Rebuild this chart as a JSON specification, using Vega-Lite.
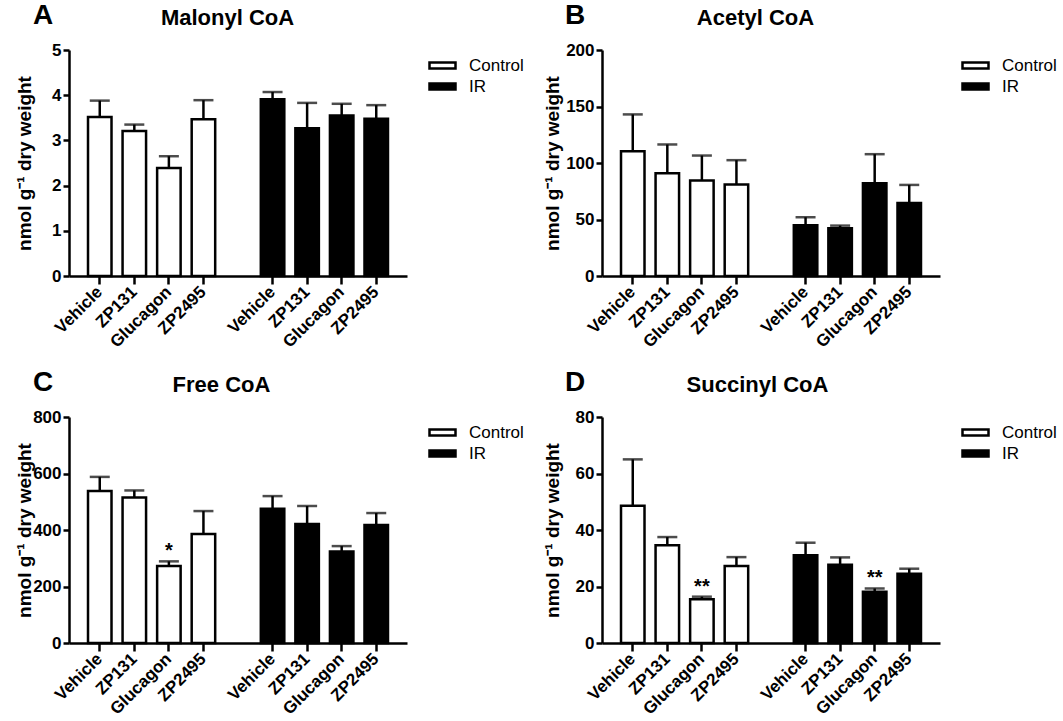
{
  "$schema": "https://vega.github.io/schema/vega-lite/v6.json",
  "background": "white",
  "padding": {"left": 14, "top": 2, "right": 0, "bottom": 0},
  "autosize": {"type": "pad"},
  "datasets": {
    "coa": [
      {"panel": "A", "group": "Control", "bar": "Control|Vehicle", "mean": 3.52, "err": 3.88, "sig": ""},
      {"panel": "A", "group": "Control", "bar": "Control|ZP131", "mean": 3.21, "err": 3.35, "sig": ""},
      {"panel": "A", "group": "Control", "bar": "Control|Glucagon", "mean": 2.39, "err": 2.65, "sig": ""},
      {"panel": "A", "group": "Control", "bar": "Control|ZP2495", "mean": 3.47, "err": 3.89, "sig": ""},
      {"panel": "A", "group": "IR", "bar": "IR|Vehicle", "mean": 3.91, "err": 4.07, "sig": ""},
      {"panel": "A", "group": "IR", "bar": "IR|ZP131", "mean": 3.27, "err": 3.83, "sig": ""},
      {"panel": "A", "group": "IR", "bar": "IR|Glucagon", "mean": 3.55, "err": 3.81, "sig": ""},
      {"panel": "A", "group": "IR", "bar": "IR|ZP2495", "mean": 3.48, "err": 3.78, "sig": ""},
      {"panel": "B", "group": "Control", "bar": "Control|Vehicle", "mean": 110.5, "err": 143, "sig": ""},
      {"panel": "B", "group": "Control", "bar": "Control|ZP131", "mean": 91, "err": 116.4, "sig": ""},
      {"panel": "B", "group": "Control", "bar": "Control|Glucagon", "mean": 84.5, "err": 106.6, "sig": ""},
      {"panel": "B", "group": "Control", "bar": "Control|ZP2495", "mean": 81, "err": 102.5, "sig": ""},
      {"panel": "B", "group": "IR", "bar": "IR|Vehicle", "mean": 44.9, "err": 52, "sig": ""},
      {"panel": "B", "group": "IR", "bar": "IR|ZP131", "mean": 42.2, "err": 44.6, "sig": ""},
      {"panel": "B", "group": "IR", "bar": "IR|Glucagon", "mean": 82.1, "err": 107.8, "sig": ""},
      {"panel": "B", "group": "IR", "bar": "IR|ZP2495", "mean": 64.7, "err": 80.6, "sig": ""},
      {"panel": "C", "group": "Control", "bar": "Control|Vehicle", "mean": 538, "err": 588, "sig": ""},
      {"panel": "C", "group": "Control", "bar": "Control|ZP131", "mean": 515, "err": 540, "sig": ""},
      {"panel": "C", "group": "Control", "bar": "Control|Glucagon", "mean": 273, "err": 289, "sig": "*"},
      {"panel": "C", "group": "Control", "bar": "Control|ZP2495", "mean": 386, "err": 467, "sig": ""},
      {"panel": "C", "group": "IR", "bar": "IR|Vehicle", "mean": 475, "err": 520, "sig": ""},
      {"panel": "C", "group": "IR", "bar": "IR|ZP131", "mean": 421, "err": 485, "sig": ""},
      {"panel": "C", "group": "IR", "bar": "IR|Glucagon", "mean": 324, "err": 343, "sig": ""},
      {"panel": "C", "group": "IR", "bar": "IR|ZP2495", "mean": 418, "err": 460, "sig": ""},
      {"panel": "D", "group": "Control", "bar": "Control|Vehicle", "mean": 48.6, "err": 65, "sig": ""},
      {"panel": "D", "group": "Control", "bar": "Control|ZP131", "mean": 34.6, "err": 37.5, "sig": ""},
      {"panel": "D", "group": "Control", "bar": "Control|Glucagon", "mean": 15.5, "err": 16.4, "sig": "**"},
      {"panel": "D", "group": "Control", "bar": "Control|ZP2495", "mean": 27.3, "err": 30.4, "sig": ""},
      {"panel": "D", "group": "IR", "bar": "IR|Vehicle", "mean": 31.1, "err": 35.5, "sig": ""},
      {"panel": "D", "group": "IR", "bar": "IR|ZP131", "mean": 27.7, "err": 30.3, "sig": ""},
      {"panel": "D", "group": "IR", "bar": "IR|Glucagon", "mean": 18.1, "err": 19.3, "sig": "**"},
      {"panel": "D", "group": "IR", "bar": "IR|ZP2495", "mean": 24.5, "err": 26.3, "sig": ""}
    ]
  },
  "data": {"name": "coa"},
  "columns": 2,
  "spacing": {"row": 18, "column": 14},
  "resolve": {"scale": {"fill": "independent"}, "legend": {"fill": "independent"}},
  "concat": [
    {
      "title": {"text": "A", "dx": 18},
      "width": 338, "height": 226,
      "transform": [{"filter": "datum.panel === 'A'"}],
      "resolve": {"axis": {"x": "independent"}},
      "layer": [
        {
          "mark": {"type": "rule", "color": "black", "strokeWidth": 2.5},
          "encoding": {
            "x": {"field": "bar", "type": "nominal", "scale": {"domain": ["Control|Vehicle","Control|ZP131","Control|Glucagon","Control|ZP2495","gap","IR|Vehicle","IR|ZP131","IR|Glucagon","IR|ZP2495"], "paddingInner": 0.32, "paddingOuter": 0.55},
              "axis": {"orient": "top", "title": "Malonyl CoA", "labels": false, "ticks": false, "domain": false, "titleFontSize": 22, "titlePadding": 21, "titleX": 158, "minExtent": 0, "maxExtent": 0}},
            "y": {"field": "mean", "type": "quantitative", "scale": {"domain": [0, 5], "nice": false}},
            "y2": {"field": "err"}
          }
        },
        {
          "mark": {"type": "tick", "orient": "horizontal", "size": 20, "thickness": 2.5, "color": "black"},
          "encoding": {
            "x": {"field": "bar", "type": "nominal", "scale": {"domain": ["Control|Vehicle","Control|ZP131","Control|Glucagon","Control|ZP2495","gap","IR|Vehicle","IR|ZP131","IR|Glucagon","IR|ZP2495"], "paddingInner": 0.32, "paddingOuter": 0.55}, "axis": null},
            "y": {"field": "err", "type": "quantitative", "scale": {"domain": [0, 5], "nice": false}}
          }
        },
        {
          "mark": {"type": "bar", "stroke": "black", "strokeWidth": 2.5},
          "encoding": {
            "x": {"field": "bar", "type": "nominal", "scale": {"domain": ["Control|Vehicle","Control|ZP131","Control|Glucagon","Control|ZP2495","gap","IR|Vehicle","IR|ZP131","IR|Glucagon","IR|ZP2495"], "paddingInner": 0.32, "paddingOuter": 0.55},
              "axis": {"orient": "bottom", "title": null, "values": ["Control|Vehicle","Control|ZP131","Control|Glucagon","Control|ZP2495","IR|Vehicle","IR|ZP131","IR|Glucagon","IR|ZP2495"], "labelExpr": "split(datum.value, '|')[1]", "labelAngle": -45, "labelAlign": "right", "labelBaseline": "middle", "labelPadding": 5, "tickSize": 8, "ticks": true, "labelOverlap": false}},
            "y": {"field": "mean", "type": "quantitative", "scale": {"domain": [0, 5], "nice": false},
              "axis": {"title": "nmol g⁻¹ dry weight", "values": [0, 1, 2, 3, 4, 5], "tickSize": 6, "labelPadding": 2, "titleX": -35}},
            "fill": {"field": "group", "type": "nominal", "scale": {"domain": ["Control", "IR"], "range": ["white", "black"]}}
          }
        }
      ]
    },
    {
      "title": {"text": "B", "dx": 22},
      "width": 338, "height": 226,
      "transform": [{"filter": "datum.panel === 'B'"}],
      "resolve": {"axis": {"x": "independent"}},
      "layer": [
        {
          "mark": {"type": "rule", "color": "black", "strokeWidth": 2.5},
          "encoding": {
            "x": {"field": "bar", "type": "nominal", "scale": {"domain": ["Control|Vehicle","Control|ZP131","Control|Glucagon","Control|ZP2495","gap","IR|Vehicle","IR|ZP131","IR|Glucagon","IR|ZP2495"], "paddingInner": 0.32, "paddingOuter": 0.55},
              "axis": {"orient": "top", "title": "Acetyl CoA", "labels": false, "ticks": false, "domain": false, "titleFontSize": 22, "titlePadding": 21, "titleX": 153, "minExtent": 0, "maxExtent": 0}},
            "y": {"field": "mean", "type": "quantitative", "scale": {"domain": [0, 200], "nice": false}},
            "y2": {"field": "err"}
          }
        },
        {
          "mark": {"type": "tick", "orient": "horizontal", "size": 20, "thickness": 2.5, "color": "black"},
          "encoding": {
            "x": {"field": "bar", "type": "nominal", "scale": {"domain": ["Control|Vehicle","Control|ZP131","Control|Glucagon","Control|ZP2495","gap","IR|Vehicle","IR|ZP131","IR|Glucagon","IR|ZP2495"], "paddingInner": 0.32, "paddingOuter": 0.55}, "axis": null},
            "y": {"field": "err", "type": "quantitative", "scale": {"domain": [0, 200], "nice": false}}
          }
        },
        {
          "mark": {"type": "bar", "stroke": "black", "strokeWidth": 2.5},
          "encoding": {
            "x": {"field": "bar", "type": "nominal", "scale": {"domain": ["Control|Vehicle","Control|ZP131","Control|Glucagon","Control|ZP2495","gap","IR|Vehicle","IR|ZP131","IR|Glucagon","IR|ZP2495"], "paddingInner": 0.32, "paddingOuter": 0.55},
              "axis": {"orient": "bottom", "title": null, "values": ["Control|Vehicle","Control|ZP131","Control|Glucagon","Control|ZP2495","IR|Vehicle","IR|ZP131","IR|Glucagon","IR|ZP2495"], "labelExpr": "split(datum.value, '|')[1]", "labelAngle": -45, "labelAlign": "right", "labelBaseline": "middle", "labelPadding": 5, "tickSize": 8, "ticks": true, "labelOverlap": false}},
            "y": {"field": "mean", "type": "quantitative", "scale": {"domain": [0, 200], "nice": false},
              "axis": {"title": "nmol g⁻¹ dry weight", "values": [0, 50, 100, 150, 200], "tickSize": 6, "labelPadding": 2, "titleX": -40}},
            "fill": {"field": "group", "type": "nominal", "scale": {"domain": ["Control", "IR"], "range": ["white", "black"]}}
          }
        }
      ]
    },
    {
      "title": {"text": "C", "dx": 18},
      "width": 338, "height": 226,
      "transform": [{"filter": "datum.panel === 'C'"}],
      "resolve": {"axis": {"x": "independent"}},
      "layer": [
        {
          "mark": {"type": "rule", "color": "black", "strokeWidth": 2.5},
          "encoding": {
            "x": {"field": "bar", "type": "nominal", "scale": {"domain": ["Control|Vehicle","Control|ZP131","Control|Glucagon","Control|ZP2495","gap","IR|Vehicle","IR|ZP131","IR|Glucagon","IR|ZP2495"], "paddingInner": 0.32, "paddingOuter": 0.55},
              "axis": {"orient": "top", "title": "Free CoA", "labels": false, "ticks": false, "domain": false, "titleFontSize": 22, "titlePadding": 21, "titleX": 152, "minExtent": 0, "maxExtent": 0}},
            "y": {"field": "mean", "type": "quantitative", "scale": {"domain": [0, 800], "nice": false}},
            "y2": {"field": "err"}
          }
        },
        {
          "mark": {"type": "tick", "orient": "horizontal", "size": 20, "thickness": 2.5, "color": "black"},
          "encoding": {
            "x": {"field": "bar", "type": "nominal", "scale": {"domain": ["Control|Vehicle","Control|ZP131","Control|Glucagon","Control|ZP2495","gap","IR|Vehicle","IR|ZP131","IR|Glucagon","IR|ZP2495"], "paddingInner": 0.32, "paddingOuter": 0.55}, "axis": null},
            "y": {"field": "err", "type": "quantitative", "scale": {"domain": [0, 800], "nice": false}}
          }
        },
        {
          "mark": {"type": "bar", "stroke": "black", "strokeWidth": 2.5},
          "encoding": {
            "x": {"field": "bar", "type": "nominal", "scale": {"domain": ["Control|Vehicle","Control|ZP131","Control|Glucagon","Control|ZP2495","gap","IR|Vehicle","IR|ZP131","IR|Glucagon","IR|ZP2495"], "paddingInner": 0.32, "paddingOuter": 0.55},
              "axis": {"orient": "bottom", "title": null, "values": ["Control|Vehicle","Control|ZP131","Control|Glucagon","Control|ZP2495","IR|Vehicle","IR|ZP131","IR|Glucagon","IR|ZP2495"], "labelExpr": "split(datum.value, '|')[1]", "labelAngle": -45, "labelAlign": "right", "labelBaseline": "middle", "labelPadding": 5, "tickSize": 8, "ticks": true, "labelOverlap": false}},
            "y": {"field": "mean", "type": "quantitative", "scale": {"domain": [0, 800], "nice": false},
              "axis": {"title": "nmol g⁻¹ dry weight", "values": [0, 200, 400, 600, 800], "tickSize": 6, "labelPadding": 2, "titleX": -35}},
            "fill": {"field": "group", "type": "nominal", "scale": {"domain": ["Control", "IR"], "range": ["white", "black"]}}
          }
        },
        {
          "transform": [{"filter": "datum.sig !== ''"}],
          "mark": {"type": "text", "fontSize": 20, "fontWeight": "bold", "color": "black", "baseline": "alphabetic", "dy": -4},
          "encoding": {
            "x": {"field": "bar", "type": "nominal", "scale": {"domain": ["Control|Vehicle","Control|ZP131","Control|Glucagon","Control|ZP2495","gap","IR|Vehicle","IR|ZP131","IR|Glucagon","IR|ZP2495"], "paddingInner": 0.32, "paddingOuter": 0.55}, "axis": null},
            "y": {"field": "err", "type": "quantitative", "scale": {"domain": [0, 800], "nice": false}},
            "text": {"field": "sig"}
          }
        }
      ]
    },
    {
      "title": {"text": "D", "dx": 22},
      "width": 338, "height": 226,
      "transform": [{"filter": "datum.panel === 'D'"}],
      "resolve": {"axis": {"x": "independent"}},
      "layer": [
        {
          "mark": {"type": "rule", "color": "black", "strokeWidth": 2.5},
          "encoding": {
            "x": {"field": "bar", "type": "nominal", "scale": {"domain": ["Control|Vehicle","Control|ZP131","Control|Glucagon","Control|ZP2495","gap","IR|Vehicle","IR|ZP131","IR|Glucagon","IR|ZP2495"], "paddingInner": 0.32, "paddingOuter": 0.55},
              "axis": {"orient": "top", "title": "Succinyl CoA", "labels": false, "ticks": false, "domain": false, "titleFontSize": 22, "titlePadding": 21, "titleX": 155, "minExtent": 0, "maxExtent": 0}},
            "y": {"field": "mean", "type": "quantitative", "scale": {"domain": [0, 80], "nice": false}},
            "y2": {"field": "err"}
          }
        },
        {
          "mark": {"type": "tick", "orient": "horizontal", "size": 20, "thickness": 2.5, "color": "black"},
          "encoding": {
            "x": {"field": "bar", "type": "nominal", "scale": {"domain": ["Control|Vehicle","Control|ZP131","Control|Glucagon","Control|ZP2495","gap","IR|Vehicle","IR|ZP131","IR|Glucagon","IR|ZP2495"], "paddingInner": 0.32, "paddingOuter": 0.55}, "axis": null},
            "y": {"field": "err", "type": "quantitative", "scale": {"domain": [0, 80], "nice": false}}
          }
        },
        {
          "mark": {"type": "bar", "stroke": "black", "strokeWidth": 2.5},
          "encoding": {
            "x": {"field": "bar", "type": "nominal", "scale": {"domain": ["Control|Vehicle","Control|ZP131","Control|Glucagon","Control|ZP2495","gap","IR|Vehicle","IR|ZP131","IR|Glucagon","IR|ZP2495"], "paddingInner": 0.32, "paddingOuter": 0.55},
              "axis": {"orient": "bottom", "title": null, "values": ["Control|Vehicle","Control|ZP131","Control|Glucagon","Control|ZP2495","IR|Vehicle","IR|ZP131","IR|Glucagon","IR|ZP2495"], "labelExpr": "split(datum.value, '|')[1]", "labelAngle": -45, "labelAlign": "right", "labelBaseline": "middle", "labelPadding": 5, "tickSize": 8, "ticks": true, "labelOverlap": false}},
            "y": {"field": "mean", "type": "quantitative", "scale": {"domain": [0, 80], "nice": false},
              "axis": {"title": "nmol g⁻¹ dry weight", "values": [0, 20, 40, 60, 80], "tickSize": 6, "labelPadding": 2, "titleX": -40}},
            "fill": {"field": "group", "type": "nominal", "scale": {"domain": ["Control", "IR"], "range": ["white", "black"]}}
          }
        },
        {
          "transform": [{"filter": "datum.sig !== ''"}],
          "mark": {"type": "text", "fontSize": 20, "fontWeight": "bold", "color": "black", "baseline": "alphabetic", "dy": -4},
          "encoding": {
            "x": {"field": "bar", "type": "nominal", "scale": {"domain": ["Control|Vehicle","Control|ZP131","Control|Glucagon","Control|ZP2495","gap","IR|Vehicle","IR|ZP131","IR|Glucagon","IR|ZP2495"], "paddingInner": 0.32, "paddingOuter": 0.55}, "axis": null},
            "y": {"field": "err", "type": "quantitative", "scale": {"domain": [0, 80], "nice": false}},
            "text": {"field": "sig"}
          }
        }
      ]
    }
  ],
  "config": {
    "view": {"stroke": null},
    "font": "Liberation Sans",
    "axis": {
      "grid": false,
      "domainColor": "black", "domainWidth": 2.5,
      "tickColor": "black", "tickWidth": 2.5,
      "labelColor": "black", "labelFont": "Liberation Sans", "labelFontSize": 17, "labelFontWeight": "bold",
      "titleColor": "black", "titleFont": "Liberation Sans", "titleFontSize": 19, "titleFontWeight": "bold"
    },
    "title": {"font": "Liberation Sans", "fontSize": 28, "fontWeight": "bold", "color": "black", "anchor": "start", "frame": "bounds", "offset": -24},
    "legend": {
      "title": null, "orient": "right", "offset": 20, "padding": 4,
      "symbolType": "M-1.3,-0.3H1.3V0.3H-1.3Z", "symbolSize": 400,
      "symbolStrokeColor": "black", "symbolStrokeWidth": 2.5,
      "labelFont": "Liberation Sans", "labelFontSize": 17, "labelColor": "black",
      "labelOffset": 15, "rowPadding": 1
    }
  }
}
